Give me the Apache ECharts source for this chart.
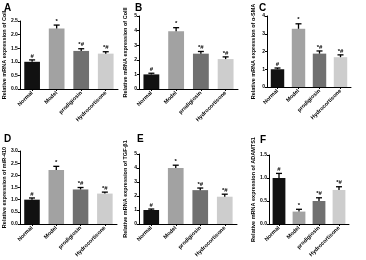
<!DOCTYPE html>
<html><head><meta charset="utf-8">
<script src="https://cdn.jsdelivr.net/npm/echarts@6/dist/echarts.min.js"></script>
<style>html,body{margin:0;padding:0;background:#fff}#c{width:366px;height:260px}</style>
</head><body><div id="c"></div>
<script>
var categories = ['Normal', 'Model', 'prodigiosin', 'Hydrocortisone'];
var barColors = ['#111111', '#a2a2a2', '#707070', '#cdcdcd'];
var panelLetters = ['A', 'B', 'C', 'D', 'E', 'F'];
var yNames = ['Relative mRNA expression of ColI', 'Relative mRNA expression of ColII', 'Relative mRNA expression of \u03b1-SMA',
  'Relative expression of miR-410', 'Relative mRNA expression of TGF-\u03b21', 'Relative mRNA expression of ADAMTS1'];
var valuesA = [1.0, 2.22, 1.40, 1.30];
var errorsA = [0.07, 0.13, 0.08, 0.07];
var valuesB = [1.0, 3.95, 2.42, 2.05];
var errorsB = [0.08, 0.25, 0.15, 0.15];
var valuesC = [1.0, 3.28, 1.88, 1.68];
var errorsC = [0.07, 0.28, 0.15, 0.13];
var valuesD = [1.0, 2.22, 1.42, 1.25];
var errorsD = [0.07, 0.15, 0.08, 0.06];
var valuesE = [1.0, 4.0, 2.42, 1.95];
var errorsE = [0.07, 0.20, 0.15, 0.18];
var valuesF = [1.0, 0.27, 0.50, 0.74];
var errorsF = [0.10, 0.05, 0.07, 0.07];
var marksAE = ['#', '*', '*#', '*#'];
var marksF = ['#', '*', '*#', '*#'];
var yMax = [2.5, 5, 4, 3.0, 5, 1.5];
var yStep = [0.5, 1, 1, 0.5, 1, 0.5];
var yDecimals = [1, 0, 0, 1, 0, 1];

var values = [valuesA, valuesB, valuesC, valuesD, valuesE, valuesF];
var errors = [errorsA, errorsB, errorsC, errorsD, errorsE, errorsF];
var marks = [marksAE, marksAE, marksAE, marksAE, marksAE, marksF];

var grids = [
  {left: 18, top: 21, width: 100, height: 68},
  {left: 139, top: 16, width: 99, height: 73},
  {left: 267, top: 16, width: 84, height: 71},
  {left: 18, top: 151, width: 99, height: 73},
  {left: 139, top: 154, width: 98, height: 72},
  {left: 269, top: 155, width: 80, height: 70}
];
var letterPos = [[4, 3], [135, 3], [259, 3], [4, 134], [137, 134], [260, 135]];
var FONT = 'Liberation Sans, Arial, sans-serif';

var chart = echarts.init(document.getElementById('c'), null, {renderer: 'canvas'});
var option = {
  animation: false,
  backgroundColor: '#fff',
  grid: [], xAxis: [], yAxis: [], series: [], graphic: []
};
for (var p = 0; p < 6; p++) {
  option.grid.push(grids[p]);
  option.xAxis.push({
    type: 'category', gridIndex: p, data: categories,
    axisLine: {lineStyle: {color: '#000', width: 1}},
    axisTick: {show: true, alignWithLabel: true, length: 2, lineStyle: {color: '#000'}},
    axisLabel: {rotate: 45, fontSize: 5.5, fontWeight: 'bold', color: '#000', margin: 3, interval: 0, fontFamily: FONT}
  });
  (function (p) {
    option.yAxis.push({
      type: 'value', gridIndex: p, min: 0, max: yMax[p], interval: yStep[p],
      name: yNames[p], nameLocation: 'middle', nameGap: 11, nameRotate: 90,
      nameTextStyle: {fontSize: 5.5, fontWeight: 'bold', color: '#000', fontFamily: FONT},
      axisLine: {show: true, lineStyle: {color: '#000', width: 1}},
      axisTick: {show: true, length: 2, lineStyle: {color: '#000'}},
      splitLine: {show: false},
      axisLabel: {fontSize: 5, fontWeight: 'bold', color: '#000', margin: 2, fontFamily: FONT,
        formatter: function (v) { return v.toFixed(yDecimals[p]); }}
    });
  })(p);
  option.series.push({
    type: 'bar', xAxisIndex: p, yAxisIndex: p, barWidth: '64%',
    data: values[p].map(function (v, i) { return {value: v, itemStyle: {color: barColors[i]}}; })
  });
  (function (p) {
    option.series.push({
      type: 'custom', xAxisIndex: p, yAxisIndex: p, z: 5,
      data: values[p].map(function (v, i) { return [i, v, errors[p][i], marks[p][i]]; }),
      renderItem: function (params, api) {
        var i = api.value(0), v = api.value(1), e = api.value(2);
        var base = api.coord([i, v]);
        var top = api.coord([i, v + e]);
        var cap = 3;
        return {
          type: 'group',
          children: [
            {type: 'line', shape: {x1: top[0], y1: base[1], x2: top[0], y2: top[1]}, style: {stroke: '#000', lineWidth: 1.3}},
            {type: 'line', shape: {x1: top[0] - cap, y1: top[1], x2: top[0] + cap, y2: top[1]}, style: {stroke: '#000', lineWidth: 1.3}},
            {type: 'text', style: {x: top[0], y: top[1] - 1, text: marks[p][i], textAlign: 'center', textVerticalAlign: 'bottom',
              fontSize: 6, fontWeight: 'bold', fill: '#000', fontFamily: FONT}}
          ]
        };
      }
    });
  })(p);
  option.graphic.push({type: 'text', left: letterPos[p][0], top: letterPos[p][1],
    style: {text: panelLetters[p], fontSize: 10, fontWeight: 'bold', fill: '#000', fontFamily: FONT}});
}
chart.setOption(option);
</script></body></html>
